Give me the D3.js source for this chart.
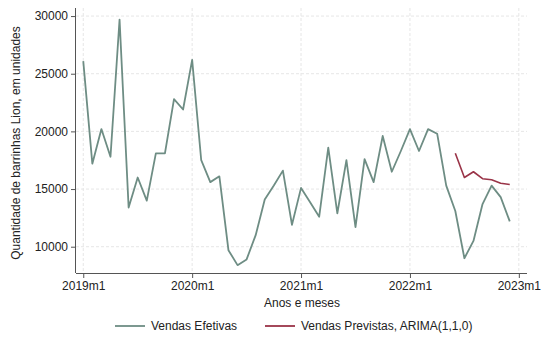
<!DOCTYPE html>
<html>
<head>
<meta charset="utf-8">
<script src="https://cdn.jsdelivr.net/npm/d3@7"></script>
<style>
  html, body { margin: 0; padding: 0; background: #fff; }
  svg { display: block; font-family: "Liberation Sans", Arial, Helvetica, sans-serif; }
</style>
</head>
<body>
<svg id="chart" width="541" height="343"></svg>
<script>
// Monthly sales of Lion bars, 2019m1 .. 2022m12 (index 0 = 2019m1)
const actualSales = [
  26100, 17200, 20200, 17800, 29700, 13400, 16000, 14000, 18100, 18100, 22800, 21900,
  26200, 17500, 15600, 16100, 9700, 8400, 8900, 11000, 14100, 15300, 16600, 11900,
  15100, 13850, 12600, 18600, 12900, 17500, 11700, 17600, 15600, 19600, 16500, 18300,
  20200, 18300, 20200, 19800, 15300, 13100, 9000, 10500, 13700, 15300, 14300, 12200
];
// ARIMA(1,1,0) forecast, starting at 2022m6 (index 41)
const forecastStart = 41;
const forecastSales = [18100, 16000, 16500, 15900, 15800, 15500, 15400];

const xTickValues = [0, 12, 24, 36, 48];
const xTickLabels = ["2019m1", "2020m1", "2021m1", "2022m1", "2023m1"];
const yTickValues = [10000, 15000, 20000, 25000, 30000];

const svg = d3.select("#chart");
const plotLeft = 76, plotRight = 527, plotTop = 8, plotBottom = 273;

const x = d3.scaleLinear().domain([-0.8, 48.9]).range([plotLeft, plotRight]);
const y = d3.scaleLinear().domain([7720, 30700]).range([plotBottom, plotTop]);

// grid
const grid = svg.append("g").attr("stroke", "#e6e6e6").attr("stroke-width", 1)
  .attr("stroke-dasharray", "3,2");
grid.selectAll(".gy").data(yTickValues).enter().append("line")
  .attr("x1", plotLeft).attr("x2", plotRight)
  .attr("y1", d => y(d)).attr("y2", d => y(d));
grid.selectAll(".gx").data(xTickValues).enter().append("line")
  .attr("x1", d => x(d)).attr("x2", d => x(d))
  .attr("y1", plotTop).attr("y2", plotBottom);

// axes
const yAxis = d3.axisLeft(y).tickValues(yTickValues).tickSize(5).tickPadding(3)
  .tickFormat(d3.format("d"));
const xAxis = d3.axisBottom(x).tickValues(xTickValues).tickSize(5).tickPadding(3)
  .tickFormat((d, i) => xTickLabels[i]);

const gy = svg.append("g").attr("transform", `translate(${plotLeft},0)`).call(yAxis);
const gx = svg.append("g").attr("transform", `translate(0,${plotBottom})`).call(xAxis);
[gx, gy].forEach(g => {
  g.select(".domain").attr("stroke", "#555").attr("stroke-width", 1);
  g.selectAll(".tick line").attr("stroke", "#555");
  g.selectAll(".tick text").attr("fill", "#222").style("font-size", "12px")
    .style("font-family", "'Liberation Sans', Arial, sans-serif");
});
gy.select(".domain").attr("d", `M-0.5,${plotTop}V${plotBottom}`);
gx.select(".domain").attr("d", `M${plotLeft},0.5H${plotRight}`);

// axis titles
svg.append("text").attr("x", 302).attr("y", 307).attr("text-anchor", "middle")
  .attr("fill", "#222").style("font-size", "12px").text("Anos e meses");
svg.append("text").attr("transform", "translate(20,143) rotate(-90)")
  .attr("text-anchor", "middle").attr("fill", "#222").style("font-size", "12px")
  .text("Quantidade de barrinhas Lion, em unidades");

// series
const line = d3.line().x(d => x(d.i)).y(d => y(d.v));
const actualPts = actualSales.map((v, i) => ({ i, v }));
const forecastPts = forecastSales.map((v, k) => ({ i: forecastStart + k, v }));

const green = "#6e8d84", red = "#9a3448";
svg.append("path").datum(actualPts).attr("d", line)
  .attr("fill", "none").attr("stroke", green).attr("stroke-width", 1.8)
  .attr("stroke-linejoin", "round");
svg.append("path").datum(forecastPts).attr("d", line)
  .attr("fill", "none").attr("stroke", red).attr("stroke-width", 1.6)
  .attr("stroke-linejoin", "round");

// legend
const legend = [
  { label: "Vendas Efetivas", color: green, x: 115 },
  { label: "Vendas Previstas, ARIMA(1,1,0)", color: red, x: 265 }
];
const lg = svg.append("g");
legend.forEach(d => {
  lg.append("line").attr("x1", d.x).attr("x2", d.x + 30).attr("y1", 326).attr("y2", 326)
    .attr("stroke", d.color).attr("stroke-width", 1.8);
  lg.append("text").attr("x", d.x + 36).attr("y", 330).attr("fill", "#222")
    .style("font-size", "12px").text(d.label);
});
</script>
</body>
</html>
